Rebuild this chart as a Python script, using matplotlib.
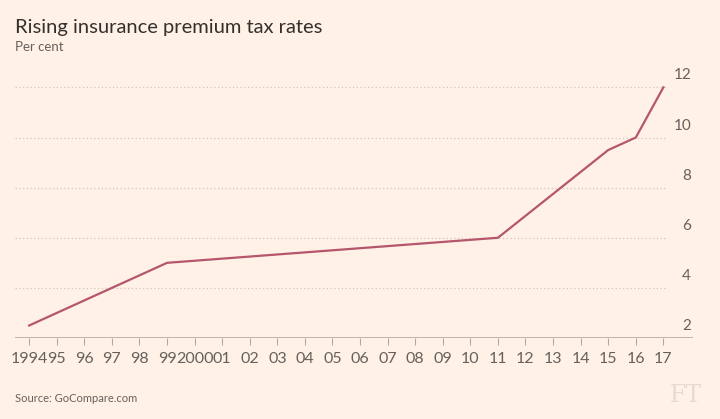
import matplotlib.pyplot as plt
import matplotlib.transforms as mtransforms
import numpy as np

plt.rcParams['font.family'] = ['Lato', 'DejaVu Sans']

years = [1994, 1999, 2011, 2015, 2016, 2017]
rates = [2.5, 5.0, 6.0, 9.5, 10.0, 12.0]

tick_years = list(range(1994, 2018))
tick_labels = ['1994'] + ['%02d' % (y % 100) for y in range(1995, 2000)] + ['2000'] + \
    ['%02d' % (y % 100) for y in range(2001, 2018)]
y_ticks = [2, 4, 6, 8, 10, 12]

bg = '#FFF1E5'
line_col = '#B5566E'
text_dark = '#33302E'
text_grey = '#66605C'

fig = plt.figure(figsize=(7.2, 4.19), dpi=100, facecolor=bg)
ax = fig.add_axes([0.021, 0.1933, 0.9417, 0.64])
ax.set_facecolor(bg)

ax.plot(years, rates, color=line_col, lw=1.6, solid_joinstyle='miter', zorder=3)

ax.set_xlim(1993.49, 2018.08)
ax.set_ylim(2, 12.7)

for v in y_ticks[1:]:
    ax.axhline(v, xmin=0, xmax=0.96, color='#CEC6B9', lw=0.9, ls=(0, (1, 2)), zorder=1)
ax.axhline(2, color='#B3A9A0', lw=1.2, zorder=2)

trans = mtransforms.blended_transform_factory(ax.transAxes, ax.transData)
for v in y_ticks:
    ax.text(0.997, v + 0.2, str(v), transform=trans, ha='right', va='bottom',
            fontsize=11, color=text_grey)

for s in ax.spines.values():
    s.set_visible(False)
ax.set_yticks([])
ax.set_xticks(tick_years)
ax.set_xticklabels(tick_labels, fontsize=11.5, color=text_grey)
ax.tick_params(axis='x', length=5, width=0.8, color='#B3A9A0', pad=5)

fig.text(0.021, 0.935, 'Rising insurance premium tax rates', fontsize=14.5,
         color=text_dark, ha='left', va='center')
fig.text(0.021, 0.888, 'Per cent', fontsize=9.5, color=text_grey, ha='left', va='center')
fig.text(0.021, 0.05, 'Source: GoCompare.com', fontsize=8, color=text_grey,
         ha='left', va='center')
fig.text(0.975, 0.055, 'FT', fontsize=17, color='#E6DACE', family='DejaVu Serif',
         ha='right', va='center')

fig.savefig('out.png', dpi=100, facecolor=bg)
